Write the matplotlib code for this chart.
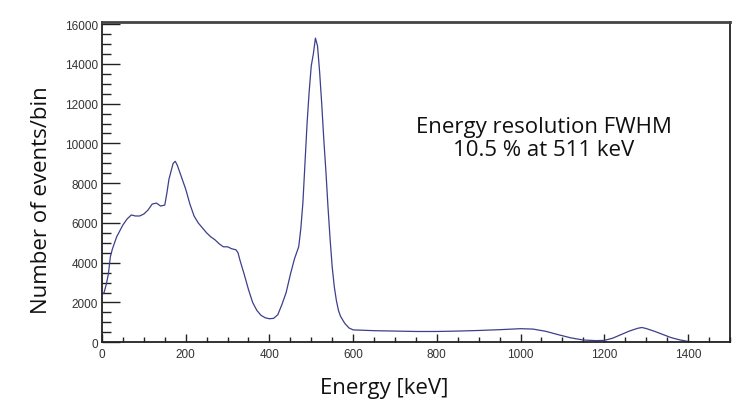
import matplotlib
matplotlib.use("Agg")
import matplotlib.pyplot as plt
from matplotlib.ticker import MultipleLocator

energy_keV = [0, 5, 10, 15, 20, 25, 30, 35, 40, 50, 60, 70, 80, 90, 100, 110, 120,
              130, 140, 150, 155, 160, 165, 170, 175, 180, 190, 200, 210, 220, 230,
              240, 250, 260, 270, 280, 290, 300, 310, 320, 325, 330, 340, 350, 360,
              370, 380, 390, 400, 410, 420, 430, 440, 450, 460, 470, 475, 480, 485,
              490, 495, 500, 505, 510, 515, 520, 525, 530, 535, 540, 545, 550, 555,
              560, 565, 570, 580, 590, 600, 650, 700, 750, 800, 850, 900, 950, 1000,
              1030, 1060, 1090, 1120, 1150, 1180, 1200, 1220, 1240, 1260, 1280, 1290,
              1300, 1320, 1340, 1360, 1380, 1400, 1420, 1500]
counts = [2400, 2500, 2900, 3400, 4300, 4700, 5000, 5300, 5500, 5900, 6200, 6400,
          6350, 6350, 6450, 6650, 6950, 7000, 6850, 6900, 7500, 8200, 8600, 9000,
          9100, 8900, 8300, 7700, 6950, 6350, 6000, 5750, 5500, 5300, 5150, 4950,
          4800, 4800, 4700, 4650, 4500, 4100, 3400, 2650, 2000, 1600, 1350, 1230,
          1180, 1200, 1380, 1900, 2500, 3400, 4200, 4800, 5700, 7000, 9000, 11000,
          12600, 13900, 14500, 15300, 14900, 13600, 12000, 10200, 8600, 6800, 5200,
          3800, 2800, 2100, 1600, 1300, 950, 720, 620, 580, 560, 540, 540, 560, 590,
          630, 680, 660, 550, 380, 220, 110, 80, 90, 200, 380, 560, 700, 740, 690,
          550, 390, 230, 120, 40, 0, 0]

x_label = "Energy [keV]"
y_label = "Number of events/bin"
note = "Energy resolution FWHM\n10.5 % at 511 keV"

fig = plt.figure(figsize=(7.5, 4.14), dpi=100)
ax = fig.add_axes([0.136, 0.171, 0.837, 0.773])
ax.plot(energy_keV, counts, color="#3c3f8c", lw=0.9)
ax.set_xlim(0, 1500)
ax.set_ylim(0, 16100)

ax.xaxis.set_major_locator(MultipleLocator(200))
ax.xaxis.set_minor_locator(MultipleLocator(50))
ax.yaxis.set_major_locator(MultipleLocator(2000))
ax.yaxis.set_minor_locator(MultipleLocator(500))
ax.tick_params(axis="both", which="both", direction="in", top=False, right=False,
               colors="#222222", labelcolor="#333333", labelsize=8.5, width=1.0)
ax.tick_params(axis="y", which="major", length=13, pad=3)
ax.tick_params(axis="y", which="minor", length=6.5)
ax.tick_params(axis="x", which="major", length=6, pad=4)
ax.tick_params(axis="x", which="minor", length=3.5)
for lab in ax.get_xticklabels() + ax.get_yticklabels():
    lab.set_family(["Liberation Sans", "DejaVu Sans"])

for s in ax.spines.values():
    s.set_color("#222222")
    s.set_linewidth(1.3)
ax.spines["top"].set_linewidth(2.0)
ax.spines["top"].set_color("#444444")

ax.set_xlabel(x_label, fontsize=16, family=["Open Sans", "DejaVu Sans"],
              color="#111111")
ax.set_ylabel(y_label, fontsize=16, family=["Open Sans", "DejaVu Sans"],
              color="#111111")
ax.xaxis.set_label_coords(0.449, -0.11)
ax.yaxis.set_label_coords(-0.080, 0.447)
ax.text(0.704, 0.638, note, transform=ax.transAxes, ha="center", va="center",
        fontsize=16, family=["Open Sans", "DejaVu Sans"], color="#111111",
        linespacing=1.15)

fig.savefig("out.png", dpi=100)
